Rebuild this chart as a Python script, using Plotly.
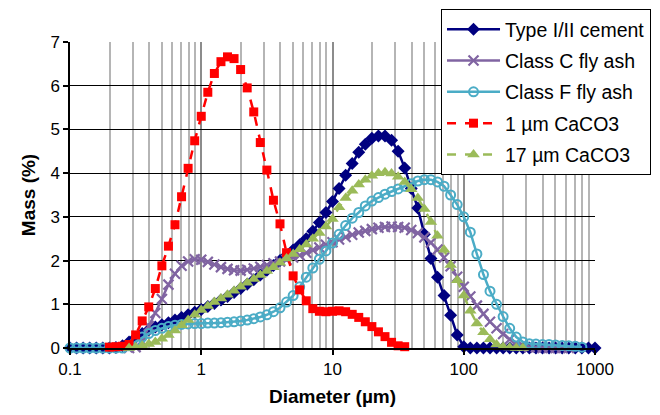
import plotly.graph_objects as go

# Particle size bins (µm), 20 per decade
diameter_um = [
    0.1, 0.1122, 0.1259, 0.1413, 0.1585, 0.1778, 0.1995, 0.2239, 0.2512, 0.2818,
    0.3162, 0.3548, 0.3981, 0.4467, 0.5012, 0.5623, 0.6310, 0.7079, 0.7943, 0.8913,
    1.0, 1.122, 1.259, 1.413, 1.585, 1.778, 1.995, 2.239, 2.512, 2.818,
    3.162, 3.548, 3.981, 4.467, 5.012, 5.623, 6.310, 7.079, 7.943, 8.913,
    10.0, 11.22, 12.59, 14.13, 15.85, 17.78, 19.95, 22.39, 25.12, 28.18,
    31.62, 35.48, 39.81, 44.67, 50.12, 56.23, 63.10, 70.79, 79.43, 89.13,
    100.0, 112.2, 125.9, 141.3, 158.5, 177.8, 199.5, 223.9, 251.2, 281.8,
    316.2, 354.8, 398.1, 446.7, 501.2, 562.3, 631.0, 707.9, 794.3, 891.3,
    1000.0,
]

N = None
cement = [
    0, 0, 0, 0, 0, 0, 0, 0.01, 0.05, 0.14,
    0.24, 0.33, 0.42, 0.48, 0.53, 0.58, 0.64, 0.70, 0.76, 0.82,
    0.88, 0.95, 1.02, 1.10, 1.18, 1.27, 1.36, 1.46, 1.56, 1.67,
    1.78, 1.89, 2.00, 2.12, 2.24, 2.36, 2.50, 2.67, 2.87, 3.10,
    3.35, 3.65, 3.95, 4.22, 4.48, 4.66, 4.80, 4.85, 4.85, 4.75,
    4.50, 4.12, 3.65, 3.20, 2.60, 2.05, 1.62, 1.20, 0.75, 0.30,
    0.03, 0, 0, 0, 0, 0, 0, 0, 0, 0,
    0, 0, 0, 0, 0, 0, 0, 0, 0, 0,
    0,
]
class_c = [
    N, N, N, N, N, N, N, N, N, 0,
    0.02, 0.15, 0.50, 0.80, 1.12, 1.45, 1.70, 1.88, 1.98, 2.03,
    2.02, 1.97, 1.91, 1.85, 1.81, 1.78, 1.77, 1.79, 1.82, 1.86,
    1.90, 1.94, 1.98, 2.02, 2.07, 2.12, 2.18, 2.24, 2.30, 2.36,
    2.42, 2.48, 2.54, 2.59, 2.64, 2.68, 2.72, 2.75, 2.77, 2.78,
    2.77, 2.75, 2.70, 2.63, 2.53, 2.41, 2.25, 2.07, 1.87, 1.63,
    1.40, 1.18, 0.97, 0.78, 0.60, 0.45, 0.32, 0.20, 0.11, 0.05,
    0.02, 0.01, 0, 0, 0, 0, 0, N, N, N,
    N,
]
class_f = [
    0, 0, 0, 0, 0, 0, 0, 0, 0, 0.05,
    0.15, 0.25, 0.33, 0.40, 0.45, 0.49, 0.52, 0.54, 0.55, 0.56,
    0.56, 0.57, 0.57, 0.58, 0.59, 0.60, 0.62, 0.64, 0.67, 0.71,
    0.76, 0.83, 0.92, 1.05, 1.20, 1.40, 1.62, 1.83, 2.03, 2.22,
    2.40, 2.60, 2.80, 2.97, 3.10, 3.25, 3.36, 3.44, 3.52, 3.58,
    3.64, 3.70, 3.76, 3.82, 3.85, 3.85, 3.80, 3.70, 3.50, 3.28,
    3.00, 2.65, 2.15, 1.68, 1.30, 1.00, 0.72, 0.45, 0.25, 0.14,
    0.10, 0.09, 0.08, 0.08, 0.07, 0.06, 0.05, 0.04, 0.02, N,
    N,
]
caco3_1um = [
    N, N, N, N, N, N, 0.02, 0.03, 0.04, 0.08,
    0.30, 0.62, 0.94, 1.36, 1.88, 2.33, 2.82, 3.46, 4.11, 4.74,
    5.30, 5.85, 6.28, 6.55, 6.66, 6.62, 6.37, 5.95, 5.40, 4.70,
    4.07, 3.38, 2.84, 2.18, 1.65, 1.33, 1.08, 0.90, 0.84, 0.83,
    0.84, 0.85, 0.83, 0.77, 0.70, 0.60, 0.49, 0.37, 0.26, 0.13,
    0.05, 0.03, N, N, N, N, N, N, N, N,
    N, N, N, N, N, N, N, N, N, N,
    N, N, N, N, N, N, N, N, N, N,
    N,
]
caco3_17um = [
    N, N, N, N, N, N, N, N, N, 0,
    0.02, 0.05, 0.09, 0.14, 0.21, 0.30, 0.40, 0.52, 0.64, 0.76,
    0.87, 0.96, 1.05, 1.13, 1.22, 1.31, 1.40, 1.49, 1.58, 1.67,
    1.76, 1.85, 1.95, 2.05, 2.15, 2.26, 2.37, 2.50, 2.63, 2.78,
    2.95, 3.22, 3.43, 3.60, 3.74, 3.85, 3.94, 4.00, 4.02, 3.99,
    3.92, 3.80, 3.63, 3.43, 3.18, 2.88, 2.57, 2.25, 1.90, 1.55,
    1.20, 0.85, 0.56, 0.36, 0.20, 0.08, 0.03, 0.01, 0, 0,
    N, N, N, N, N, N, N, N, N, N,
    N,
]

x_tick_vals = [0.1, 1, 10, 100, 1000]
x_tick_text = ["0.1", "1", "10", "100", "1000"]
y_tick_vals = [0, 1, 2, 3, 4, 5, 6, 7]

FONT = "Arial, Liberation Sans, sans-serif"

series = [
    ("Type I/II cement", cement, "#000080", "diamond", 10, "solid", dict()),
    ("Class C fly ash", class_c, "#8064A2", "x-thin", 10, "solid", dict(line=dict(width=2.2, color="#8064A2"))),
    ("Class F fly ash", class_f, "#4BACC6", "circle-open", 9, "solid", dict(line=dict(width=2, color="#4BACC6"))),
    ("1 µm CaCO3", caco3_1um, "#FF0000", "square", 9, "dash", dict()),
    ("17 µm CaCO3", caco3_17um, "#9BBB59", "triangle-up", 11, "dash", dict()),
]

fig = go.Figure()
for k, (name, vals, color, sym, size, dash, extra) in enumerate(series):
    marker = dict(symbol=sym, size=size, color=color)
    marker.update(extra)
    fig.add_trace(go.Scatter(
        x=diameter_um, y=vals, name=name, mode="lines+markers",
        line=dict(color=color, width=2.5, dash=dash),
        marker=marker, cliponaxis=False, connectgaps=False,
        legendgroup=f"g{k}",
    ))

minor_vals = []
for dec in [0.1, 1, 10, 100]:
    for m in range(2, 10):
        minor_vals.append(dec * m)

# plot area: 525 x 306 px
fig.update_layout(
    width=660, height=415,
    margin=dict(l=62, r=73, t=34, b=75, autoexpand=False),
    paper_bgcolor="white", plot_bgcolor="white",
    font=dict(family=FONT, color="black", size=17),
    showlegend=True,
    legend=dict(
        x=0.7067, y=1.108, xanchor="left", yanchor="top",
        bgcolor="white", bordercolor="black", borderwidth=1,
        font=dict(size=19.5, family=FONT),
        tracegroupgap=3,
        itemwidth=53,
    ),
)
fig.update_xaxes(
    type="log", range=[-1, 3],
    tickvals=x_tick_vals, ticktext=x_tick_text,
    showgrid=True, gridcolor="#8c8c8c", gridwidth=2,
    minor=dict(tickvals=minor_vals, showgrid=True, gridcolor="#b5b5b5", gridwidth=2.2, ticks=""),
    showline=True, linecolor="black", linewidth=1.5,
    ticks="outside", ticklen=5, tickcolor="black", tickwidth=1.5,
    tickfont=dict(size=17),
    title=dict(text="<b>Diameter (µm)</b>", font=dict(size=19), standoff=12),
    zeroline=False, automargin=False,
)
fig.update_yaxes(
    range=[0, 7], tickvals=y_tick_vals,
    showgrid=True, gridcolor="black", gridwidth=1.3,
    showline=True, linecolor="black", linewidth=1.5,
    ticks="outside", ticklen=5, tickcolor="black", tickwidth=1.5,
    tickfont=dict(size=17),
    title=dict(text="<b>Mass (%)</b>", font=dict(size=19), standoff=10),
    zeroline=False, automargin=False,
)

fig.write_html("out.html")
